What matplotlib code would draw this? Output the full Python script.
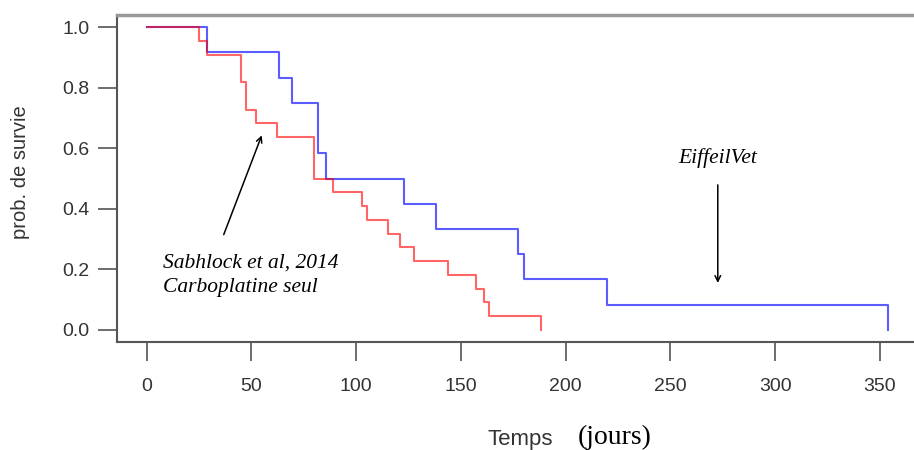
import matplotlib
matplotlib.use('Agg')
import matplotlib.pyplot as plt

# courbes de survie (Kaplan-Meier)
temps_sabhlock = [0, 25, 29, 45, 47.5, 52, 62, 80, 89, 103, 105, 115, 121, 127.5, 144, 157, 161, 163.5, 188]
surv_sabhlock = [1.0, 0.955, 0.909, 0.818, 0.727, 0.682, 0.636, 0.5, 0.455, 0.409, 0.364,
                 0.318, 0.273, 0.227, 0.182, 0.136, 0.091, 0.045, 0.0]
temps_eiffel = [0, 29, 63, 69.5, 82, 85.5, 123, 138, 177, 180, 219.5, 354]
surv_eiffel = [1.0, 0.917, 0.833, 0.75, 0.583, 0.5, 0.417, 0.333, 0.25, 0.167, 0.083, 0.0]

xticks = [0, 50, 100, 150, 200, 250, 300, 350]
yticks = [0.0, 0.2, 0.4, 0.6, 0.8, 1.0]

fig = plt.figure(figsize=(9.14, 4.5), dpi=100)
ax = fig.add_axes([117 / 914, 1 - 342 / 450, (918 - 117) / 914, (342 - 15) / 450])

ax.plot(temps_eiffel, surv_eiffel, drawstyle='steps-post', color='#3333ff', alpha=0.8, lw=1.5)
ax.plot(temps_sabhlock, surv_sabhlock, drawstyle='steps-post', color='red', alpha=0.6, lw=1.5)

ax.set_xlim(-14.16, 368.16)
ax.set_ylim(-0.04, 1.04)
ax.set_xticks(xticks)
ax.set_xticklabels([str(t) for t in xticks])
ax.set_yticks(yticks)
ax.set_yticklabels(['%.1f' % v for v in yticks])

for s in ['left', 'bottom']:
    ax.spines[s].set_color('#555555')
    ax.spines[s].set_linewidth(1.5)
ax.spines['top'].set_color('#999999')
ax.spines['top'].set_linewidth(2.5)
ax.spines['right'].set_visible(False)
ax.tick_params(axis='both', colors='#555555', labelcolor='#333333', labelsize=14,
               length=14, width=1.2, direction='out')
ax.tick_params(axis='x', pad=12)
ax.tick_params(axis='y', pad=6)
for lab in ax.get_xticklabels() + ax.get_yticklabels():
    lab.set_family('Liberation Sans')

ax.set_ylabel('prob. de survie', fontsize=14.5, family='Liberation Sans', color='#333333')
ax.yaxis.set_label_coords(-0.108, 0.52)

serif = 'Liberation Serif'
ax.text(8, 0.18, 'Sabhlock et al, 2014\nCarboplatine seul', fontsize=15.5, style='italic',
        family=serif, ha='left', va='center', linespacing=1.35)
ax.annotate('', xy=(55.4, 0.651), xytext=(36.3, 0.306),
            arrowprops=dict(arrowstyle='->', color='black', lw=1.1))
ax.text(272.6, 0.568, 'EiffeilVet', fontsize=15.5, style='italic', family=serif,
        ha='center', va='center')
ax.annotate('', xy=(272.6, 0.146), xytext=(272.6, 0.488),
            arrowprops=dict(arrowstyle='->', color='black', lw=1.1))

fig.text(520 / 914, 1 - 440 / 450, 'Temps', fontsize=16, family='Liberation Sans',
         color='#333333', ha='center', va='center')
fig.text(615 / 914, 1 - 437 / 450, '(jours)', fontsize=20, family=serif,
         ha='center', va='center')

fig.savefig('out.png', dpi=100)
